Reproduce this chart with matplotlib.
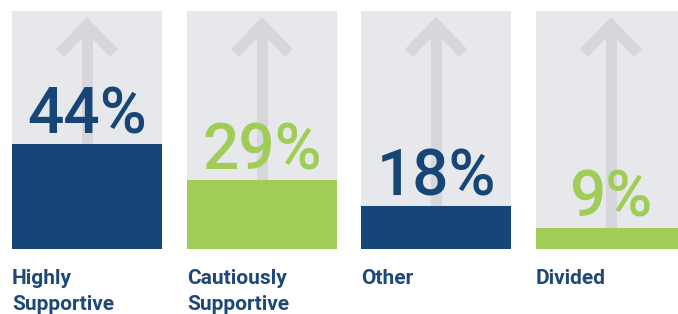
import matplotlib
matplotlib.use("Agg")
import matplotlib.pyplot as plt

plt.rcParams['font.family'] = ['Roboto', 'DejaVu Sans']

labels = ["Highly\nSupportive", "Cautiously\nSupportive", "Other", "Divided"]
values = [44, 29, 18, 9]
bar_colors = ["#154677", "#a0cd57", "#154677", "#a0cd57"]

bg_color = "#e7e8ec"
arrow_color = "#d5d7dc"
label_color = "#1d4878"

W, H = 678, 314
fig = plt.figure(figsize=(W / 100, H / 100), dpi=100)

panel_left = [12, 187, 361, 536]
panel_w, panel_top, panel_bottom = 150, 11, 249
panel_h = panel_bottom - panel_top

for i in range(len(values)):
    ax = fig.add_axes([panel_left[i] / W, (H - panel_bottom) / H,
                       panel_w / W, panel_h / H])
    ax.set_facecolor(bg_color)
    ax.set_xlim(0, 1)
    ax.set_ylim(0, 100)
    for s in ax.spines.values():
        s.set_visible(False)
    ax.set_xticks([])
    ax.set_yticks([])

    # arrow in the background
    tip = 1 - 14 / panel_h
    wing_y = 1 - 42 / panel_h
    dx = 27 / panel_w
    ax.plot([0.5, 0.5], [0, tip], color=arrow_color, lw=8,
            solid_capstyle='butt', transform=ax.transAxes, zorder=1)
    ax.plot([0.5 - dx, 0.5, 0.5 + dx], [wing_y, tip, wing_y], color=arrow_color,
            lw=8, solid_capstyle='butt', solid_joinstyle='miter',
            transform=ax.transAxes, zorder=1)

    # the bar
    ax.bar(0.5, values[i], width=1.0, color=bar_colors[i], zorder=2)

    # percentage
    ax.text(0.5, values[i] + 4.5, f"{values[i]}%", ha='center', va='baseline',
            fontsize=46, fontweight='medium', color=bar_colors[i], zorder=3)

    # category label
    ax.text(0.0, -0.082, labels[i], ha='left', va='top', transform=ax.transAxes,
            fontsize=15, fontweight='bold', color=label_color, linespacing=1.5)

fig.savefig("out.png", dpi=100)
